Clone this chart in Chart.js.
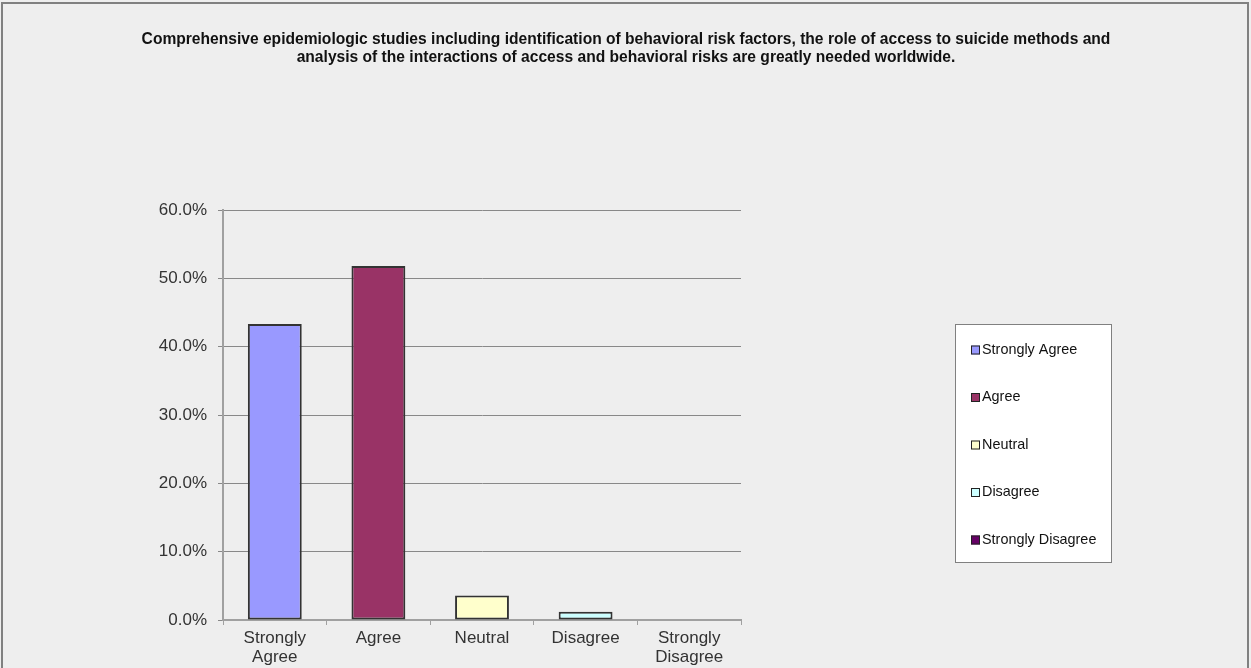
<!DOCTYPE html>
<html>
<head>
<meta charset="utf-8">
<script src="https://cdn.jsdelivr.net/npm/chart.js@4.4.1/dist/chart.umd.min.js"></script>
<style>
  html, body { margin: 0; padding: 0; background: #eeeeee; }
  #wrap { width: 1251px; height: 668px; position: relative; }
</style>
</head>
<body>
<div id="wrap"><canvas id="myChart" width="1251" height="668"></canvas></div>
<script>
// Datos del gráfico
const categories = [['Strongly', 'Agree'], 'Agree', 'Neutral', 'Disagree', ['Strongly', 'Disagree']];
const legendLabels = ['Strongly Agree', 'Agree', 'Neutral', 'Disagree', 'Strongly Disagree'];
const percentages = [43.3, 51.8, 3.6, 1.2, 0];
const barColors = ['#9999ff', '#993366', '#ffffcc', '#ccffff', '#660066'];
const yTicks = [0, 10, 20, 30, 40, 50, 60];
const titleLines = [
  'Comprehensive epidemiologic studies including identification of behavioral risk factors, the role of access to suicide methods and',
  'analysis of the interactions of access and behavioral risks are greatly needed worldwide.'
];

const FONT = '"Liberation Sans", Arial, sans-serif';

// Fondo, borde, título y leyenda
const decoPlugin = {
  id: 'deco',
  beforeDraw(chart) {
    const ctx = chart.ctx;
    ctx.save();
    ctx.fillStyle = '#eeeeee';
    ctx.fillRect(0, 0, chart.width, chart.height);
    ctx.strokeStyle = '#808080';
    ctx.lineWidth = 2;
    ctx.beginPath();
    ctx.moveTo(2, chart.height);
    ctx.lineTo(2, 3);
    ctx.lineTo(1248, 3);
    ctx.lineTo(1248, chart.height);
    ctx.stroke();
    ctx.restore();
  },
  afterDraw(chart) {
    const ctx = chart.ctx;
    ctx.save();
    // título
    ctx.fillStyle = '#111';
    ctx.font = 'bold 15.6px ' + FONT;
    ctx.textAlign = 'center';
    ctx.textBaseline = 'middle';
    titleLines.forEach((line, i) => {
      ctx.fillText(line, 626, 40 + i * 17.5);
    });

    // leyenda
    const lx = 955, ly = 324, lw = 156, lh = 238;
    ctx.fillStyle = '#ffffff';
    ctx.fillRect(lx, ly, lw, lh);
    ctx.strokeStyle = '#808080';
    ctx.lineWidth = 1;
    ctx.strokeRect(lx + 0.5, ly + 0.5, lw, lh);
    ctx.font = '14.4px ' + FONT;
    ctx.textAlign = 'left';
    legendLabels.forEach((label, i) => {
      const y = 350 + i * 47.5;
      ctx.fillStyle = barColors[i];
      ctx.fillRect(971, y - 4.5, 9, 9);
      ctx.strokeStyle = '#222';
      ctx.strokeRect(971.5, y - 4, 8, 8);
      ctx.fillStyle = '#111';
      ctx.fillText(label, 982, y);
    });
    ctx.restore();
  }
};

const chartConfig = {
  type: 'bar',
  data: {
    labels: categories,
    datasets: [
      {
        label: 'Respuestas',
        data: percentages,
        backgroundColor: barColors,
        borderColor: '#333333',
        borderWidth: 2,
        borderSkipped: false,
        categoryPercentage: 1,
        barPercentage: 0.52,
      },
    ],
  },
  options: {
    responsive: false,
    animation: false,
    layout: { padding: { top: 210, right: 510, left: 0, bottom: 0 } },
    plugins: {
      legend: { display: false },
      title: { display: false },
      tooltip: { enabled: false },
    },
    scales: {
      x: {
        offset: true,
        grid: {
          offset: true,
          drawOnChartArea: false,
          drawTicks: true,
          tickLength: 5,
          color: '#a0a0a0',
        },
        border: { color: '#a0a0a0', width: 2 },
        ticks: {
          color: '#333333',
          font: { family: FONT, size: 17, lineHeight: 1.12 },
          padding: 4,
          maxRotation: 0,
          autoSkip: false,
        },
        afterFit(scale) { scale.height = 48; },
      },
      y: {
        min: 0,
        max: 60,
        afterBuildTicks(scale) { scale.ticks = yTicks.map(v => ({ value: v })); },
        grid: {
          color: '#888888',
          tickLength: 5,
        },
        border: { color: '#a0a0a0', width: 2 },
        ticks: {
          color: '#333333',
          font: { family: FONT, size: 17 },
          padding: 11,
          callback: v => v.toFixed(1) + '%',
        },
        afterFit(scale) { scale.width = 223; },
      },
    },
  },
  plugins: [decoPlugin],
};

const myChart = new Chart(document.getElementById('myChart'), chartConfig);
</script>
</body>
</html>
